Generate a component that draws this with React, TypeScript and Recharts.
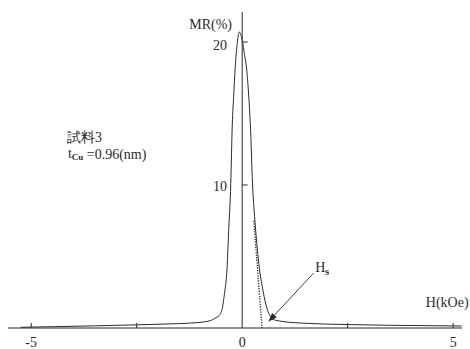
import React from 'react'
import { LineChart, Line, XAxis, YAxis, ReferenceLine, ReferenceDot } from 'recharts'

// field H (kOe) and magnetoresistance MR (%)
const H = [
  -5.25, -4.5, -3.5, -2.5, -1.8, -1.2, -0.9, -0.75, -0.66, -0.6, -0.55, -0.5, -0.47, -0.42,
  -0.36, -0.32, -0.27, -0.235, -0.2, -0.17, -0.14, -0.11, -0.07, -0.03, 0.01, 0.05, 0.11,
  0.16, 0.2, 0.245, 0.31, 0.36, 0.41, 0.47, 0.52, 0.6, 0.66, 0.72, 0.8, 0.97, 1.5, 2.5, 3.5,
  4.5, 5.2,
]
const MR = [
  0.05, 0.09, 0.15, 0.22, 0.28, 0.35, 0.43, 0.52, 0.65, 0.75, 0.85, 1.1, 1.4, 2.4,
  4.1, 6.8, 10.1, 14.2, 16.3, 18.0, 19.2, 20.1, 20.7, 20.5, 20.0, 19.2, 18.0,
  16.0, 13.8, 10.1, 7.2, 5.5, 4.1, 3.0, 2.2, 1.26, 0.85, 0.62, 0.54, 0.45, 0.33, 0.24, 0.19,
  0.16, 0.14,
]

const X_TICKS = [-5, -2.5, 0, 2.5, 5]
const Y_TICKS = [10, 20]
const X_DOMAIN = [-5.55, 5.21]
const Y_DOMAIN = [0, 22.1]

// tangent used to define the saturation field Hs
const TANGENT = [
  { x: 0.275, y: 7.5 },
  { x: 0.472, y: 0 },
]
const ARROW = [
  { x: 1.69, y: 3.83 },
  { x: 0.62, y: 0.44 },
]

const data = H.map((h, i) => ({ h, mr: MR[i] }))

const INK = '#2b2b2b'
const FONT = '"Liberation Serif", "DejaVu Serif", serif'

const Arrow = (p: any) => {
  const { x1, y1, x2, y2 } = p
  const a = Math.atan2(y2 - y1, x2 - x1)
  const len = 9
  const w = 3.2
  const bx = x2 - len * Math.cos(a)
  const by = y2 - len * Math.sin(a)
  const px = -Math.sin(a) * w
  const py = Math.cos(a) * w
  return (
    <g>
      <line x1={x1} y1={y1} x2={bx} y2={by} stroke={INK} strokeWidth={0.9} />
      <polygon points={`${x2},${y2} ${bx + px},${by + py} ${bx - px},${by - py}`} fill={INK} />
    </g>
  )
}

const textAt = (content: React.ReactNode, anchor: string, dy = 0) => (props: any) => {
  const vb = props.viewBox || {}
  return (
    <text
      x={vb.x}
      y={vb.y}
      dy={dy}
      textAnchor={anchor}
      dominantBaseline="central"
      style={{ fontFamily: FONT, fontSize: 14 }}
      fill={INK}
    >
      {content}
    </text>
  )
}

export default function App() {
  return (
    <div style={{ width: 470, height: 349, background: '#fff', fontFamily: FONT }}>
      <style>{'body{margin:0}'}</style>
      <LineChart
        width={470}
        height={349}
        data={data}
        margin={{ top: 12, right: 8, bottom: 0, left: 8 }}
        style={{ fontFamily: FONT }}
      >
        <XAxis
          dataKey="h"
          type="number"
          domain={X_DOMAIN}
          allowDataOverflow
          ticks={X_TICKS}
          interval={0}
          tickFormatter={(v: number) => (Number.isInteger(v) ? String(v) : '')}
          tickLine={false}
          tickMargin={3}
          height={21}
          axisLine={{ stroke: INK, strokeWidth: 1.1 }}
          tick={{ fill: INK, fontSize: 14, style: { fontFamily: FONT } }}
        />
        <YAxis hide type="number" domain={Y_DOMAIN} allowDataOverflow />

        <ReferenceLine x={0} stroke={INK} strokeWidth={1} />
        {X_TICKS.filter(t => t !== 0).map(t => (
          <ReferenceLine
            key={'xt' + t}
            segment={[{ x: t, y: 0 }, { x: t, y: 0.35 }]}
            stroke={INK}
            strokeWidth={1}
          />
        ))}
        {Y_TICKS.map(t => (
          <ReferenceLine
            key={'yt' + t}
            segment={[{ x: 0, y: t }, { x: 0.13, y: t }]}
            stroke={INK}
            strokeWidth={1}
          />
        ))}
        {Y_TICKS.map(t => (
          <ReferenceDot
            key={'yl' + t}
            x={-0.36}
            y={t}
            r={0}
            fill="none"
            stroke="none"
            label={textAt(String(t), 'end', t === 20 ? 3 : 1)}
          />
        ))}

        <ReferenceLine
          segment={TANGENT}
          stroke={INK}
          strokeWidth={1.3}
          strokeDasharray="1.3 1.3"
        />
        <ReferenceLine segment={ARROW} shape={Arrow} />

        <Line
          type="monotone"
          dataKey="mr"
          stroke={INK}
          strokeWidth={1}
          dot={false}
          isAnimationActive={false}
        />

        <ReferenceDot x={-0.24} y={21.26} r={0} fill="none" stroke="none" label={textAt('MR(%)', 'end')} />
        <ReferenceDot x={4.86} y={1.75} r={0} fill="none" stroke="none" label={textAt('H(kOe)', 'middle')} />
        <ReferenceDot x={-4.15} y={13.3} r={0} fill="none" stroke="none" label={textAt('試料3', 'start')} />
        <ReferenceDot
          x={-4.13}
          y={12.17}
          r={0}
          fill="none"
          stroke="none"
          label={textAt(
            <>
              t
              <tspan fontSize={9} fontWeight="bold" dy={3}>Cu</tspan>
              <tspan dy={-3}> =0.96(nm)</tspan>
            </>,
            'start'
          )}
        />
        <ReferenceDot
          x={1.73}
          y={4.2}
          r={0}
          fill="none"
          stroke="none"
          label={textAt(
            <>
              H
              <tspan fontSize={10} fontWeight="bold" dy={3}>s</tspan>
            </>,
            'start'
          )}
        />
      </LineChart>
    </div>
  )
}
